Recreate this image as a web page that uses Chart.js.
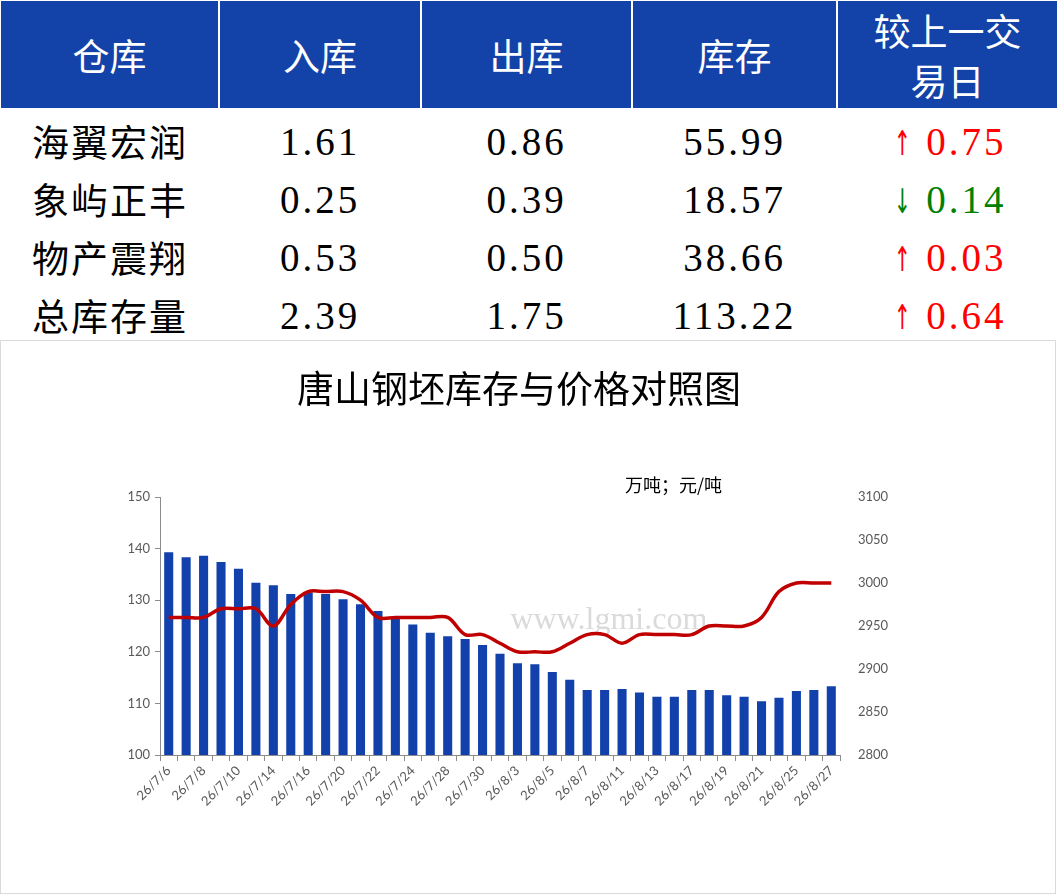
<!DOCTYPE html>
<html>
<head>
<meta charset="utf-8">
<script src="https://cdn.jsdelivr.net/npm/chart.js@4"></script>
<style>
  body { margin: 0; background: #fff; width: 1057px; height: 895px; overflow: hidden; position: relative; }
  #tabela { position: absolute; left: 1px; top: 1px; border-collapse: collapse; table-layout: fixed; width: 1056px; }
  #tabela th { background: #1343A8; color: #fff; font-family: "Noto Sans CJK SC", sans-serif; font-weight: normal;
               font-size: 37px; height: 107px; padding: 0; border-right: 2px solid #fff; line-height: 50px; }
  #tabela th:last-child { border-right: none; }
  #tabela td { height: 58px; padding: 0; text-align: center; font-size: 39px; color: #000;
               font-family: "Liberation Serif", "Noto Sans CJK SC", serif; letter-spacing: 3px; }
  #tabela td.nome { font-family: "Noto Sans CJK SC", sans-serif; letter-spacing: 2px; font-size: 37px; }
  #tabela tr.primeira td { padding-top: 4px; }
  #tabela td.sobe { color: #FF0000; }
  #tabela td.desce { color: #008000; }
  .seta { font-family: "DejaVu Sans", sans-serif; font-size: 34px; letter-spacing: 0; display: inline-block;
          transform: scaleX(0.6); margin-right: 10px; }
  #caixa { position: absolute; left: 0; top: 340px; width: 1054px; height: 552px; border: 1px solid #d9d9d9; }
  #titulo { position: absolute; left: 0; top: 21px; width: 1036px; text-align: center; line-height: 50px;
            font-family: "Noto Sans CJK SC", sans-serif; font-size: 37px; color: #000; }
  #unidade { position: absolute; left: 624px; top: 131px; font-family: "Noto Sans CJK SC", sans-serif;
             font-size: 18px; line-height: 24px; color: #000; }
  #grafico-wrap { position: absolute; left: 0; top: 0; width: 1054px; height: 552px; }
</style>
</head>
<body>
<table id="tabela">
  <colgroup>
    <col style="width:218px"><col style="width:202px"><col style="width:211px"><col style="width:205px"><col style="width:220px">
  </colgroup>
  <thead>
    <tr><th>仓库</th><th>入库</th><th>出库</th><th>库存</th><th>较上一交<br>易日</th></tr>
  </thead>
  <tbody id="corpo"></tbody>
</table>

<div id="caixa">
  <div id="grafico-wrap"><canvas id="grafico"></canvas></div>
  <div id="titulo">唐山钢坯库存与价格对照图</div>
  <div id="unidade">万吨；元/吨</div>
</div>

<script>
// Tabela de estoques
const armazens = ['海翼宏润', '象屿正丰', '物产震翔', '总库存量'];
const entradas = ['1.61', '0.25', '0.53', '2.39'];
const saidas = ['0.86', '0.39', '0.50', '1.75'];
const estoques = ['55.99', '18.57', '38.66', '113.22'];
const variacoes = [0.75, -0.14, 0.03, 0.64];

// Dados do gráfico
const datas = [
    '26/7/6', '26/7/7', '26/7/8', '26/7/9', '26/7/10',
    '26/7/13', '26/7/14', '26/7/15', '26/7/16', '26/7/17',
    '26/7/20', '26/7/21', '26/7/22', '26/7/23', '26/7/24',
    '26/7/27', '26/7/28', '26/7/29', '26/7/30', '26/7/31',
    '26/8/3', '26/8/4', '26/8/5', '26/8/6', '26/8/7',
    '26/8/10', '26/8/11', '26/8/12', '26/8/13', '26/8/14',
    '26/8/17', '26/8/18', '26/8/19', '26/8/20', '26/8/21',
    '26/8/24', '26/8/25', '26/8/26', '26/8/27'
];
const estoqueTotal = [
    139.3, 138.3, 138.6, 137.4, 136.1, 133.4, 132.9, 131.2, 131.5, 131.2,
    130.2, 129.2, 127.9, 126.8, 125.3, 123.7, 123.0, 122.5, 121.3, 119.6,
    117.8, 117.6, 116.1, 114.6, 112.6, 112.6, 112.8, 112.1, 111.3, 111.3,
    112.6, 112.6, 111.6, 111.3, 110.4, 111.1, 112.4, 112.6, 113.3
];
const precos = [
    2960, 2960, 2960, 2970, 2970, 2970, 2950, 2975, 2990, 2990,
    2990, 2980, 2960, 2960, 2960, 2960, 2960, 2940, 2940, 2930,
    2920, 2920, 2920, 2930, 2940, 2940, 2930, 2940, 2940, 2940,
    2940, 2950, 2950, 2950, 2960, 2990, 3000, 3000, 3000
];

// Monta as linhas da tabela
const corpo = document.getElementById('corpo');
armazens.forEach((nome, i) => {
    const tr = document.createElement('tr');
    if (i === 0) tr.className = 'primeira';
    const v = variacoes[i];
    const classe = v >= 0 ? 'sobe' : 'desce';
    const seta = v >= 0 ? '↑' : '↓';
    tr.innerHTML =
        '<td class="nome">' + nome + '</td>' +
        '<td>' + entradas[i] + '</td>' +
        '<td>' + saidas[i] + '</td>' +
        '<td>' + estoques[i] + '</td>' +
        '<td class="' + classe + '"><span class="seta">' + seta + '</span>' + Math.abs(v).toFixed(2) + '</td>';
    corpo.appendChild(tr);
});

// Marca d'água
const marcaDagua = {
    id: 'marcaDagua',
    beforeDatasetsDraw(chart) {
        const { ctx, chartArea } = chart;
        ctx.save();
        ctx.font = '32px "Liberation Serif", serif';
        ctx.fillStyle = 'rgba(150,150,150,0.35)';
        ctx.textAlign = 'center';
        ctx.textBaseline = 'middle';
        const x = chartArea.left + chartArea.width * 0.66;
        const y = chartArea.top + chartArea.height * 0.48;
        ctx.fillText('www.lgmi.com', x, y);
        ctx.restore();
    }
};

const cinza = '#595959';
const eixo = '#8c8c8c';
const fonteEixo = { family: 'Lato, "Liberation Sans", sans-serif', size: 13 };

new Chart(document.getElementById('grafico'), {
    type: 'bar',
    data: {
        labels: datas,
        datasets: [
            {
                type: 'line',
                label: '价格',
                data: precos,
                yAxisID: 'y2',
                borderColor: '#C00000',
                borderWidth: 3.5,
                pointRadius: 0,
                tension: 0.35,
                fill: false,
                order: 0
            },
            {
                type: 'bar',
                label: '库存',
                data: estoqueTotal,
                yAxisID: 'y',
                backgroundColor: '#1241AB',
                barPercentage: 0.52,
                categoryPercentage: 1,
                order: 1
            }
        ]
    },
    options: {
        responsive: true,
        maintainAspectRatio: false,
        animation: false,
        layout: { padding: { left: 119, right: 155, top: 156, bottom: 68 } },
        plugins: {
            legend: { display: false },
            tooltip: { enabled: false }
        },
        scales: {
            x: {
                offset: true,
                afterFit(scale) { scale.height = 70; },
                grid: { display: true, drawOnChartArea: false, drawTicks: true, tickLength: 6, color: eixo, offset: true },
                border: { color: eixo, width: 1 },
                ticks: {
                    autoSkip: false,
                    minRotation: 45,
                    maxRotation: 45,
                    padding: 2,
                    color: cinza,
                    font: { family: fonteEixo.family, size: 13 },
                    callback: function(value, index) {
                        return index % 2 === 0 ? datas[index] : '';
                    }
                }
            },
            y: {
                position: 'left',
                min: 100,
                max: 150,
                afterFit(scale) { scale.width = 40; },
                grid: { display: true, drawOnChartArea: false, drawTicks: true, tickLength: 5, color: eixo },
                border: { color: eixo, width: 1 },
                ticks: { stepSize: 10, padding: 5, color: cinza, font: fonteEixo }
            },
            y2: {
                position: 'right',
                min: 2800,
                max: 3100,
                afterFit(scale) { scale.width = 60; },
                grid: { display: false, drawOnChartArea: false },
                border: { display: false },
                ticks: {
                    stepSize: 50,
                    padding: 10,
                    color: cinza,
                    font: fonteEixo,
                    callback: function(value) { return String(value); }
                }
            }
        }
    },
    plugins: [marcaDagua]
});
</script>
</body>
</html>
